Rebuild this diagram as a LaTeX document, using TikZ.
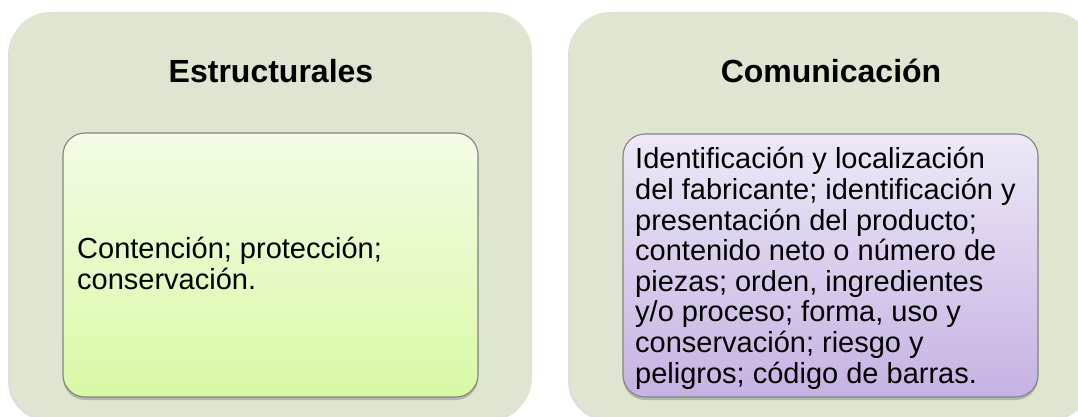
\documentclass[tikz,border=0pt]{standalone}
\usepackage{fontspec}
\setmainfont{Liberation Sans}
\usetikzlibrary{shadows}
\definecolor{outerfill}{RGB}{222,229,208}
\definecolor{greentop}{RGB}{243,252,230}
\definecolor{greenbot}{RGB}{217,249,165}
\definecolor{violettop}{RGB}{238,232,247}
\definecolor{violetbot}{RGB}{198,178,227}
\definecolor{innerborder}{RGB}{130,130,130}
\tikzset{
  outerbox/.style={fill=outerfill, rounded corners=40pt, draw=none,
    drop shadow={shadow xshift=-2pt, shadow yshift=-3pt, opacity=0.25, fill=black!50}},
  innerbox/.style={draw=innerborder, line width=1.1pt, rounded corners=22pt,
    drop shadow={shadow xshift=0pt, shadow yshift=-3pt, opacity=0.35, fill=black!60}},
  titletext/.style={anchor=base, inner sep=0pt, font=\fontsize{32}{38}\selectfont\bfseries},
  bodytext/.style={anchor=base west, inner sep=0pt, align=left, font=\fontsize{29}{30.6}\selectfont}
}
\begin{document}
\begin{tikzpicture}[x=1pt,y=-1pt]
\useasboundingbox (0,0) rectangle (1078,417);
\clip (0,0) rectangle (1078,417);
\fill[white] (0,0) rectangle (1078,417);
% outer boxes
\path[outerbox] (10,12) rectangle (532,418);
\path[outerbox] (570,12) rectangle (1092,418);
% inner boxes
\path[innerbox, top color=greentop, bottom color=greenbot] (63,133) rectangle (478,397);
\path[innerbox, top color=violettop, bottom color=violetbot] (623,134) rectangle (1038,397);
% titles
\node[titletext] (t1) at (271,83) {Estructurales};
\node[titletext] (t2) at (831,83) {Comunicación};
% bodies (base anchor = baseline of last line)
\node[bodytext] (b1) at (77,289) {Contención; protección;\\conservación.};
\node[bodytext] (b2) at (635,383) {Identificación y localización\\del fabricante; identificación y\\presentación del producto;\\contenido neto o número de\\piezas; orden, ingredientes\\y/o proceso; forma, uso y\\conservación; riesgo y\\peligros; código de barras.};
\end{tikzpicture}
\end{document}
